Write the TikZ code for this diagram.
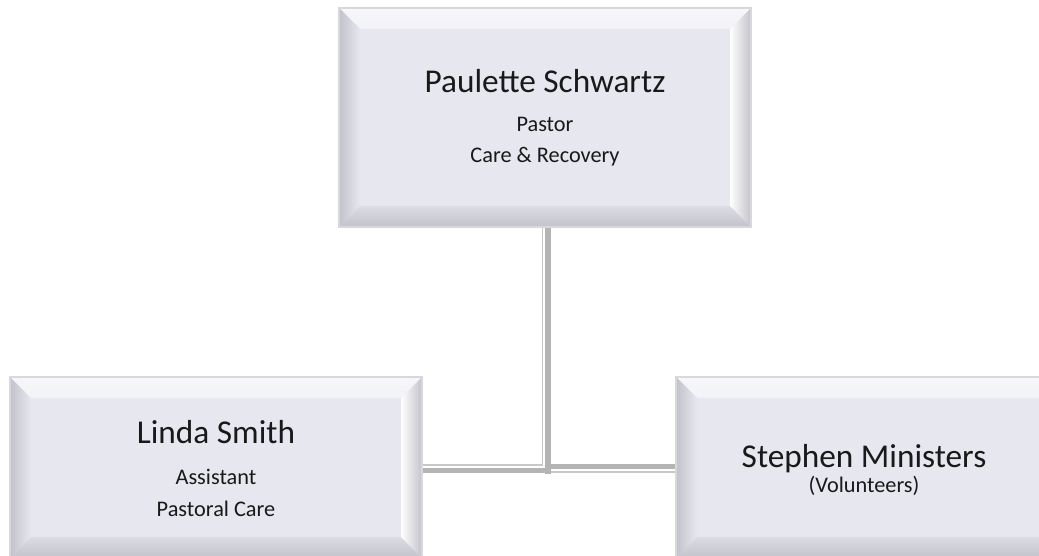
\documentclass[tikz,border=0pt]{standalone}
\usepackage{fontspec}
\setmainfont{Carlito}
\definecolor{face}{RGB}{230,231,239}
\definecolor{edgec}{RGB}{216,216,220}
\definecolor{bvdark}{RGB}{194,194,202}
\definecolor{bvlight}{RGB}{247,247,250}
\definecolor{conndark}{RGB}{180,180,180}
\definecolor{connlight}{RGB}{200,200,200}
\tikzset{
  bevelbox/.style={rectangle, draw=edgec, line width=1.5pt, fill=face, inner sep=0pt,
    path picture={
      \def\bw{21pt}
      \path (path picture bounding box.north west) coordinate (pnw)
            (path picture bounding box.north east) coordinate (pne)
            (path picture bounding box.south west) coordinate (psw)
            (path picture bounding box.south east) coordinate (pse);
      \shade[top color=bvlight, bottom color=face!50!white]
        (pnw) -- (pne) -- ([shift={(-\bw,-\bw)}]pne) -- ([shift={(\bw,-\bw)}]pnw) -- cycle;
      \shade[left color=bvdark, right color=face]
        (pnw) -- ([shift={(\bw,-\bw)}]pnw) -- ([shift={(\bw,\bw)}]psw) -- (psw) -- cycle;
      \shade[top color=face!70!bvdark, bottom color=bvdark]
        (psw) -- ([shift={(\bw,\bw)}]psw) -- ([shift={(-\bw,\bw)}]pse) -- (pse) -- cycle;
      \shade[left color=white, right color=bvdark]
        (pne) -- ([shift={(-\bw,-\bw)}]pne) -- ([shift={(-\bw,\bw)}]pse) -- (pse) -- cycle;
    }},
  bigtxt/.style={font=\fontsize{33.3}{40}\selectfont, anchor=base, inner sep=0pt, text=black!90},
  smalltxt/.style={font=\fontsize{22.3}{27}\selectfont, anchor=base, inner sep=0pt, text=black!90},
  darkline/.style={draw=conndark, line width=5pt},
  lightline/.style={draw=connlight, line width=1.8pt},
}
\begin{document}
\begin{tikzpicture}[x=1pt, y=-1pt]
\useasboundingbox (0,0) rectangle (1039,556);
\fill[white] (0,0) rectangle (1039,556);
\clip (0,0) rectangle (1039,556);

\node[bevelbox, minimum width=412pt, minimum height=219pt] (top) at (545,117.5) {};
\node[bevelbox, minimum width=412pt, minimum height=181pt] (left) at (216,467.5) {};
\node[bevelbox, minimum width=412pt, minimum height=181pt] (right) at (882,467.5) {};

\coordinate (j) at (top.south |- left.east);

% vertical connector
\draw[darkline, line width=6pt] ([xshift=3pt]top.south) -- ([xshift=3pt,yshift=-6.5pt]j);
\draw[lightline] ([xshift=-2.5pt]top.south) -- ([xshift=-2.5pt,yshift=2.4pt]j);
% left horizontal
\draw[lightline] ([yshift=2.4pt]left.east) -- ([xshift=-2.5pt,yshift=2.4pt]j);
\draw[darkline] ([yshift=-3pt]left.east) -- ([yshift=-3pt]j);
% right horizontal
\draw[darkline] ([xshift=6pt,yshift=0.9pt]j) -- ([yshift=0.9pt]right.west);
\draw[lightline] ([xshift=6pt,yshift=-4.5pt]j) -- ([yshift=-4.5pt]right.west);

% texts
\node[bigtxt] (t1) at (545,93) {Paulette Schwartz};
\node[smalltxt] (t2) at (545,132) {Pastor};
\node[smalltxt] (t3) at (545,163) {Care \& Recovery};

\node[bigtxt] (l1) at (216,443) {Linda Smith};
\node[smalltxt] (l2) at (216,484) {Assistant};
\node[smalltxt] (l3) at (216,516) {Pastoral Care};

\node[bigtxt] (r1) at (864,467) {Stephen Ministers};
\node[smalltxt] (r2) at (864,492) {(Volunteers)};
\end{tikzpicture}
\end{document}
